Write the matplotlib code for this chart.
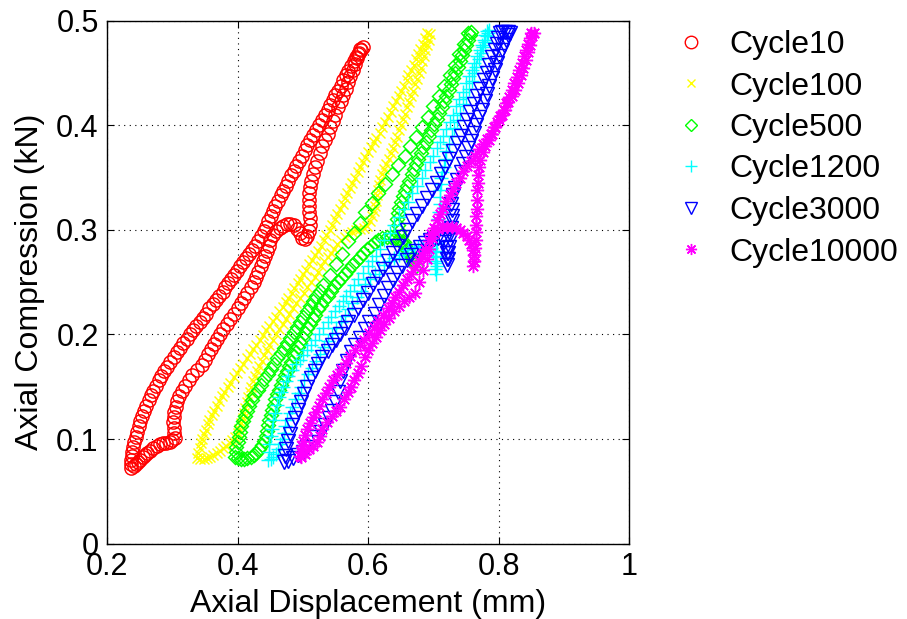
import matplotlib
matplotlib.use("Agg")
import matplotlib.pyplot as plt

plt.rcParams['font.family'] = ['Liberation Sans', 'DejaVu Sans']

# ---- recorded hysteresis loops: (axial displacement mm, axial compression kN) ----
labels = ['Cycle10', 'Cycle100', 'Cycle500', 'Cycle1200', 'Cycle3000', 'Cycle10000']

cycle10 = [
    (0.237, 0.072), (0.241, 0.074), (0.245, 0.076), (0.248, 0.078), (0.251, 0.080), (0.255, 0.083),
    (0.258, 0.085), (0.262, 0.087), (0.266, 0.089), (0.271, 0.091), (0.276, 0.093), (0.281, 0.095),
    (0.286, 0.096), (0.291, 0.096), (0.296, 0.097), (0.300, 0.099), (0.304, 0.101), (0.303, 0.106),
    (0.302, 0.111), (0.301, 0.116), (0.302, 0.121), (0.303, 0.126), (0.305, 0.131), (0.308, 0.136),
    (0.311, 0.141), (0.315, 0.146), (0.320, 0.151), (0.325, 0.156), (0.331, 0.161), (0.338, 0.166),
    (0.345, 0.171), (0.350, 0.176), (0.355, 0.181), (0.360, 0.186), (0.364, 0.191), (0.369, 0.196),
    (0.373, 0.200), (0.378, 0.205), (0.384, 0.210), (0.389, 0.215), (0.395, 0.220), (0.400, 0.225),
    (0.405, 0.230), (0.410, 0.235), (0.415, 0.240), (0.420, 0.245), (0.425, 0.250), (0.429, 0.255),
    (0.432, 0.260), (0.436, 0.265), (0.439, 0.270), (0.442, 0.275), (0.445, 0.280), (0.448, 0.285),
    (0.450, 0.290), (0.454, 0.295), (0.459, 0.299), (0.465, 0.302), (0.470, 0.304), (0.476, 0.306),
    (0.481, 0.306), (0.486, 0.305), (0.491, 0.301), (0.495, 0.297), (0.499, 0.292), (0.503, 0.291),
    (0.507, 0.294), (0.510, 0.299), (0.511, 0.305), (0.511, 0.311), (0.510, 0.317), (0.510, 0.323),
    (0.510, 0.329), (0.510, 0.335), (0.511, 0.341), (0.513, 0.347), (0.516, 0.353), (0.519, 0.360),
    (0.522, 0.366), (0.526, 0.373), (0.530, 0.380), (0.534, 0.386), (0.538, 0.392), (0.542, 0.398),
    (0.546, 0.404), (0.550, 0.410), (0.554, 0.417), (0.558, 0.423), (0.562, 0.429), (0.566, 0.435),
    (0.570, 0.441), (0.573, 0.447), (0.577, 0.453), (0.580, 0.459), (0.583, 0.464), (0.586, 0.469),
    (0.588, 0.473), (0.592, 0.475), (0.589, 0.472), (0.585, 0.468), (0.581, 0.465), (0.578, 0.461),
    (0.574, 0.457), (0.570, 0.452), (0.566, 0.448), (0.562, 0.443), (0.558, 0.438), (0.554, 0.433),
    (0.550, 0.429), (0.546, 0.424), (0.542, 0.419), (0.538, 0.415), (0.534, 0.410), (0.529, 0.405),
    (0.525, 0.400), (0.520, 0.395), (0.516, 0.391), (0.511, 0.386), (0.507, 0.381), (0.503, 0.376),
    (0.499, 0.371), (0.494, 0.366), (0.490, 0.361), (0.486, 0.356), (0.482, 0.352), (0.478, 0.347),
    (0.474, 0.342), (0.470, 0.337), (0.466, 0.333), (0.462, 0.328), (0.458, 0.323), (0.455, 0.318),
    (0.451, 0.313), (0.447, 0.308), (0.444, 0.303), (0.440, 0.299), (0.436, 0.294), (0.432, 0.289),
    (0.427, 0.285), (0.422, 0.281), (0.418, 0.277), (0.413, 0.273), (0.409, 0.269), (0.404, 0.265),
    (0.399, 0.261), (0.395, 0.257), (0.390, 0.253), (0.386, 0.249), (0.381, 0.245), (0.377, 0.241),
    (0.372, 0.237), (0.367, 0.233), (0.362, 0.229), (0.357, 0.225), (0.352, 0.220), (0.347, 0.216),
    (0.342, 0.212), (0.337, 0.208), (0.332, 0.204), (0.327, 0.200), (0.322, 0.196), (0.317, 0.192),
    (0.312, 0.187), (0.307, 0.183), (0.302, 0.178), (0.297, 0.174), (0.292, 0.169), (0.288, 0.165),
    (0.283, 0.160), (0.279, 0.156), (0.275, 0.151), (0.271, 0.146), (0.267, 0.142), (0.264, 0.137),
    (0.260, 0.132), (0.257, 0.127), (0.254, 0.122), (0.251, 0.117), (0.249, 0.112), (0.246, 0.107),
    (0.244, 0.102), (0.242, 0.097), (0.240, 0.092), (0.239, 0.088), (0.238, 0.084), (0.237, 0.080),
    (0.236, 0.076),
]

cycle100 = [
    (0.338, 0.082), (0.343, 0.081), (0.348, 0.081), (0.353, 0.082), (0.358, 0.083), (0.363, 0.085),
    (0.368, 0.087), (0.373, 0.089), (0.378, 0.091), (0.383, 0.093), (0.388, 0.096), (0.392, 0.099),
    (0.396, 0.102), (0.400, 0.106), (0.403, 0.110), (0.406, 0.115), (0.408, 0.120), (0.410, 0.125),
    (0.412, 0.130), (0.414, 0.135), (0.416, 0.140), (0.419, 0.145), (0.421, 0.150), (0.424, 0.155),
    (0.427, 0.160), (0.430, 0.165), (0.433, 0.170), (0.437, 0.175), (0.441, 0.180), (0.445, 0.185),
    (0.449, 0.190), (0.454, 0.195), (0.459, 0.200), (0.464, 0.205), (0.469, 0.210), (0.474, 0.215),
    (0.479, 0.220), (0.485, 0.225), (0.490, 0.230), (0.496, 0.235), (0.502, 0.240), (0.507, 0.245),
    (0.513, 0.250), (0.518, 0.255), (0.523, 0.260), (0.528, 0.265), (0.533, 0.270), (0.538, 0.274),
    (0.543, 0.278), (0.548, 0.282), (0.553, 0.286), (0.558, 0.290), (0.564, 0.293), (0.570, 0.296),
    (0.576, 0.298), (0.582, 0.300), (0.588, 0.301), (0.594, 0.302), (0.599, 0.304), (0.603, 0.308),
    (0.606, 0.313), (0.609, 0.318), (0.611, 0.323), (0.612, 0.328), (0.614, 0.333), (0.615, 0.338),
    (0.617, 0.343), (0.619, 0.348), (0.622, 0.353), (0.625, 0.358), (0.628, 0.363), (0.632, 0.368),
    (0.635, 0.373), (0.639, 0.378), (0.642, 0.384), (0.645, 0.389), (0.648, 0.395), (0.651, 0.400),
    (0.654, 0.406), (0.657, 0.411), (0.660, 0.417), (0.663, 0.422), (0.666, 0.428), (0.669, 0.433),
    (0.672, 0.439), (0.675, 0.444), (0.678, 0.450), (0.681, 0.455), (0.683, 0.461), (0.686, 0.466),
    (0.688, 0.472), (0.691, 0.477), (0.693, 0.482), (0.695, 0.487), (0.690, 0.488), (0.687, 0.483),
    (0.684, 0.478), (0.680, 0.473), (0.677, 0.468), (0.673, 0.463), (0.670, 0.458), (0.666, 0.453),
    (0.662, 0.448), (0.659, 0.443), (0.655, 0.438), (0.651, 0.433), (0.647, 0.428), (0.643, 0.423),
    (0.639, 0.418), (0.635, 0.413), (0.631, 0.408), (0.626, 0.403), (0.622, 0.398), (0.618, 0.393),
    (0.613, 0.388), (0.609, 0.384), (0.604, 0.379), (0.600, 0.374), (0.596, 0.370), (0.592, 0.365),
    (0.588, 0.360), (0.584, 0.355), (0.580, 0.350), (0.576, 0.345), (0.572, 0.340), (0.568, 0.335),
    (0.565, 0.330), (0.561, 0.325), (0.557, 0.320), (0.553, 0.315), (0.549, 0.310), (0.545, 0.305),
    (0.541, 0.300), (0.536, 0.295), (0.532, 0.290), (0.528, 0.285), (0.523, 0.280), (0.519, 0.276),
    (0.514, 0.271), (0.510, 0.267), (0.505, 0.262), (0.501, 0.258), (0.496, 0.253), (0.492, 0.249),
    (0.487, 0.244), (0.483, 0.240), (0.478, 0.235), (0.474, 0.231), (0.469, 0.226), (0.464, 0.222),
    (0.459, 0.217), (0.454, 0.213), (0.449, 0.208), (0.444, 0.204), (0.439, 0.199), (0.434, 0.195),
    (0.429, 0.190), (0.424, 0.186), (0.419, 0.181), (0.414, 0.177), (0.409, 0.172), (0.404, 0.168),
    (0.399, 0.163), (0.394, 0.159), (0.389, 0.154), (0.385, 0.150), (0.380, 0.145), (0.376, 0.141),
    (0.372, 0.136), (0.368, 0.132), (0.364, 0.127), (0.361, 0.123), (0.357, 0.118), (0.354, 0.114),
    (0.351, 0.109), (0.348, 0.105), (0.346, 0.100), (0.344, 0.096), (0.342, 0.091), (0.340, 0.087),
]

cycle500 = [
    (0.396, 0.083), (0.400, 0.082), (0.405, 0.081), (0.410, 0.081), (0.415, 0.082), (0.420, 0.083),
    (0.425, 0.085), (0.429, 0.087), (0.433, 0.090), (0.437, 0.094), (0.440, 0.098), (0.443, 0.103),
    (0.445, 0.108), (0.447, 0.113), (0.449, 0.118), (0.451, 0.123), (0.453, 0.128), (0.456, 0.133),
    (0.458, 0.138), (0.461, 0.143), (0.464, 0.147), (0.467, 0.152), (0.470, 0.156), (0.473, 0.161),
    (0.476, 0.165), (0.479, 0.170), (0.482, 0.174), (0.486, 0.179), (0.489, 0.183), (0.493, 0.188),
    (0.496, 0.192), (0.500, 0.197), (0.503, 0.201), (0.507, 0.206), (0.511, 0.210), (0.515, 0.215),
    (0.519, 0.219), (0.524, 0.224), (0.528, 0.228), (0.533, 0.233), (0.538, 0.237), (0.543, 0.242),
    (0.548, 0.246), (0.554, 0.250), (0.559, 0.254), (0.565, 0.258), (0.570, 0.262), (0.576, 0.266),
    (0.581, 0.270), (0.587, 0.274), (0.592, 0.278), (0.598, 0.282), (0.604, 0.285), (0.610, 0.288),
    (0.616, 0.290), (0.622, 0.292), (0.629, 0.293), (0.635, 0.293), (0.641, 0.292), (0.647, 0.290),
    (0.652, 0.288), (0.656, 0.285), (0.660, 0.281), (0.664, 0.277), (0.667, 0.273), (0.670, 0.269),
    (0.673, 0.265), (0.669, 0.270), (0.664, 0.276), (0.659, 0.282), (0.655, 0.288), (0.651, 0.294),
    (0.648, 0.299), (0.646, 0.305), (0.645, 0.310), (0.646, 0.316), (0.648, 0.321), (0.650, 0.327),
    (0.653, 0.332), (0.656, 0.337), (0.660, 0.342), (0.663, 0.347), (0.667, 0.353), (0.670, 0.358),
    (0.674, 0.363), (0.677, 0.368), (0.681, 0.373), (0.685, 0.379), (0.689, 0.384), (0.693, 0.390),
    (0.697, 0.395), (0.701, 0.401), (0.705, 0.406), (0.709, 0.412), (0.713, 0.417), (0.716, 0.423),
    (0.720, 0.428), (0.724, 0.434), (0.727, 0.439), (0.731, 0.445), (0.734, 0.450), (0.738, 0.456),
    (0.741, 0.461), (0.744, 0.467), (0.747, 0.472), (0.750, 0.477), (0.753, 0.482), (0.756, 0.486),
    (0.758, 0.489), (0.753, 0.488), (0.747, 0.478), (0.740, 0.468), (0.733, 0.458), (0.725, 0.448),
    (0.717, 0.438), (0.709, 0.428), (0.700, 0.418), (0.692, 0.408), (0.683, 0.398), (0.674, 0.389),
    (0.665, 0.380), (0.656, 0.371), (0.646, 0.362), (0.636, 0.353), (0.626, 0.344), (0.616, 0.335),
    (0.606, 0.326), (0.596, 0.317), (0.587, 0.307), (0.578, 0.297), (0.570, 0.289), (0.560, 0.277),
    (0.551, 0.267), (0.541, 0.257), (0.531, 0.247), (0.526, 0.242), (0.521, 0.237), (0.516, 0.232),
    (0.511, 0.227), (0.506, 0.222), (0.501, 0.217), (0.496, 0.212), (0.491, 0.207), (0.486, 0.202),
    (0.481, 0.197), (0.476, 0.192), (0.471, 0.187), (0.466, 0.182), (0.461, 0.177), (0.456, 0.172),
    (0.451, 0.167), (0.446, 0.162), (0.441, 0.157), (0.436, 0.152), (0.431, 0.147), (0.426, 0.142),
    (0.422, 0.137), (0.418, 0.132), (0.415, 0.127), (0.412, 0.122), (0.409, 0.117), (0.406, 0.112),
    (0.404, 0.107), (0.402, 0.102), (0.400, 0.097), (0.398, 0.092), (0.397, 0.088),
]

cycle1200 = [
    (0.447, 0.080), (0.451, 0.081), (0.455, 0.083), (0.459, 0.086), (0.462, 0.090), (0.465, 0.095),
    (0.468, 0.100), (0.471, 0.106), (0.473, 0.112), (0.476, 0.118), (0.480, 0.125), (0.484, 0.131),
    (0.488, 0.138), (0.492, 0.144), (0.497, 0.150), (0.502, 0.156), (0.508, 0.162), (0.514, 0.168),
    (0.520, 0.175), (0.526, 0.181), (0.533, 0.188), (0.539, 0.194), (0.545, 0.200), (0.551, 0.206),
    (0.558, 0.212), (0.564, 0.218), (0.570, 0.224), (0.576, 0.230), (0.583, 0.236), (0.589, 0.242),
    (0.596, 0.248), (0.603, 0.253), (0.610, 0.258), (0.617, 0.262), (0.625, 0.266), (0.632, 0.270),
    (0.640, 0.273), (0.647, 0.276), (0.655, 0.278), (0.662, 0.281), (0.670, 0.283), (0.677, 0.284),
    (0.685, 0.285), (0.691, 0.285), (0.697, 0.283), (0.700, 0.279), (0.703, 0.275), (0.704, 0.270),
    (0.705, 0.265), (0.704, 0.258), (0.703, 0.263), (0.703, 0.268), (0.704, 0.274), (0.704, 0.280),
    (0.705, 0.287), (0.706, 0.295), (0.707, 0.302), (0.708, 0.310), (0.709, 0.317), (0.710, 0.325),
    (0.711, 0.331), (0.711, 0.338), (0.712, 0.344), (0.712, 0.350), (0.714, 0.355), (0.716, 0.360),
    (0.718, 0.368), (0.720, 0.375), (0.724, 0.382), (0.728, 0.390), (0.732, 0.397), (0.737, 0.405),
    (0.741, 0.412), (0.746, 0.420), (0.750, 0.427), (0.755, 0.435), (0.759, 0.442), (0.763, 0.450),
    (0.766, 0.456), (0.770, 0.463), (0.773, 0.469), (0.776, 0.475), (0.779, 0.480), (0.782, 0.485),
    (0.784, 0.488), (0.786, 0.491), (0.782, 0.490), (0.780, 0.486), (0.777, 0.482), (0.774, 0.477),
    (0.771, 0.472), (0.767, 0.466), (0.763, 0.460), (0.759, 0.453), (0.755, 0.447), (0.750, 0.440),
    (0.745, 0.432), (0.740, 0.425), (0.735, 0.418), (0.730, 0.410), (0.725, 0.403), (0.720, 0.396),
    (0.715, 0.390), (0.710, 0.384), (0.705, 0.378), (0.700, 0.371), (0.695, 0.365), (0.688, 0.357),
    (0.682, 0.350), (0.675, 0.342), (0.668, 0.335), (0.662, 0.327), (0.655, 0.320), (0.648, 0.312),
    (0.640, 0.305), (0.633, 0.297), (0.625, 0.290), (0.618, 0.282), (0.612, 0.275), (0.606, 0.270),
    (0.600, 0.265), (0.592, 0.259), (0.585, 0.253), (0.578, 0.247), (0.572, 0.242), (0.567, 0.237),
    (0.562, 0.232), (0.556, 0.227), (0.550, 0.222), (0.544, 0.217), (0.538, 0.212), (0.531, 0.206),
    (0.525, 0.200), (0.518, 0.195), (0.512, 0.190), (0.506, 0.185), (0.500, 0.180), (0.495, 0.176),
    (0.490, 0.172), (0.484, 0.166), (0.478, 0.160), (0.474, 0.155), (0.470, 0.150), (0.466, 0.145),
    (0.463, 0.140), (0.460, 0.133), (0.458, 0.125), (0.455, 0.118), (0.453, 0.110), (0.451, 0.103),
    (0.449, 0.095), (0.448, 0.088),
]

cycle3000 = [
    (0.472, 0.078), (0.478, 0.079), (0.485, 0.082), (0.492, 0.085), (0.500, 0.088), (0.507, 0.092),
    (0.515, 0.097), (0.521, 0.102), (0.528, 0.107), (0.534, 0.113), (0.540, 0.120), (0.545, 0.127),
    (0.550, 0.135), (0.554, 0.145), (0.557, 0.155), (0.562, 0.165), (0.568, 0.175), (0.574, 0.183),
    (0.580, 0.190), (0.587, 0.197), (0.595, 0.205), (0.602, 0.212), (0.610, 0.220), (0.617, 0.228),
    (0.625, 0.237), (0.631, 0.244), (0.638, 0.252), (0.645, 0.259), (0.652, 0.265), (0.659, 0.271),
    (0.666, 0.276), (0.673, 0.280), (0.680, 0.284), (0.688, 0.287), (0.695, 0.290), (0.701, 0.291),
    (0.708, 0.292), (0.713, 0.291), (0.717, 0.288), (0.719, 0.283), (0.721, 0.278), (0.721, 0.272),
    (0.721, 0.266), (0.722, 0.272), (0.723, 0.278), (0.724, 0.284), (0.725, 0.290), (0.726, 0.296),
    (0.727, 0.302), (0.728, 0.308), (0.728, 0.313), (0.728, 0.319), (0.727, 0.325), (0.730, 0.333),
    (0.733, 0.340), (0.737, 0.348), (0.742, 0.355), (0.746, 0.363), (0.750, 0.370), (0.754, 0.378),
    (0.758, 0.385), (0.762, 0.393), (0.766, 0.400), (0.770, 0.408), (0.775, 0.415), (0.779, 0.423),
    (0.783, 0.430), (0.786, 0.438), (0.790, 0.445), (0.794, 0.453), (0.798, 0.460), (0.801, 0.466),
    (0.805, 0.472), (0.808, 0.477), (0.812, 0.482), (0.815, 0.486), (0.818, 0.488), (0.814, 0.489),
    (0.810, 0.489), (0.806, 0.489), (0.802, 0.488), (0.799, 0.483), (0.797, 0.478), (0.794, 0.472),
    (0.790, 0.465), (0.786, 0.458), (0.782, 0.450), (0.777, 0.443), (0.772, 0.435), (0.767, 0.428),
    (0.762, 0.420), (0.757, 0.413), (0.752, 0.405), (0.747, 0.398), (0.742, 0.390), (0.736, 0.383),
    (0.730, 0.375), (0.724, 0.368), (0.718, 0.360), (0.712, 0.353), (0.705, 0.345), (0.698, 0.338),
    (0.690, 0.330), (0.683, 0.323), (0.675, 0.315), (0.668, 0.308), (0.660, 0.300), (0.653, 0.293),
    (0.645, 0.285), (0.638, 0.278), (0.630, 0.270), (0.623, 0.263), (0.615, 0.255), (0.608, 0.248),
    (0.600, 0.240), (0.593, 0.233), (0.585, 0.225), (0.578, 0.219), (0.570, 0.212), (0.564, 0.206),
    (0.557, 0.200), (0.551, 0.195), (0.545, 0.190), (0.538, 0.184), (0.530, 0.178), (0.524, 0.172),
    (0.518, 0.165), (0.512, 0.158), (0.507, 0.150), (0.502, 0.143), (0.497, 0.135), (0.492, 0.128),
    (0.488, 0.120), (0.484, 0.113), (0.480, 0.105), (0.478, 0.098), (0.475, 0.090), (0.473, 0.084),
]

cycle10000 = [
    (0.497, 0.083), (0.503, 0.086), (0.510, 0.090), (0.516, 0.093), (0.522, 0.097), (0.526, 0.103),
    (0.530, 0.110), (0.537, 0.116), (0.545, 0.122), (0.551, 0.127), (0.557, 0.131), (0.563, 0.138),
    (0.570, 0.145), (0.574, 0.150), (0.578, 0.156), (0.584, 0.163), (0.590, 0.170), (0.595, 0.178),
    (0.600, 0.185), (0.606, 0.192), (0.613, 0.198), (0.619, 0.204), (0.625, 0.210), (0.632, 0.216),
    (0.640, 0.222), (0.647, 0.227), (0.655, 0.232), (0.663, 0.236), (0.672, 0.240), (0.678, 0.250),
    (0.685, 0.262), (0.690, 0.272), (0.694, 0.282), (0.698, 0.292), (0.702, 0.298), (0.708, 0.301),
    (0.714, 0.303), (0.721, 0.303), (0.728, 0.303), (0.735, 0.302), (0.741, 0.300), (0.746, 0.297),
    (0.751, 0.294), (0.755, 0.290), (0.758, 0.286), (0.761, 0.281), (0.762, 0.276), (0.762, 0.270),
    (0.761, 0.265), (0.762, 0.270), (0.763, 0.276), (0.764, 0.283), (0.765, 0.290), (0.765, 0.298),
    (0.766, 0.305), (0.766, 0.313), (0.767, 0.320), (0.767, 0.329), (0.767, 0.338), (0.768, 0.345),
    (0.769, 0.352), (0.770, 0.360), (0.772, 0.367), (0.776, 0.374), (0.780, 0.380), (0.785, 0.386),
    (0.790, 0.392), (0.795, 0.398), (0.800, 0.405), (0.805, 0.410), (0.810, 0.415), (0.815, 0.422),
    (0.820, 0.428), (0.825, 0.434), (0.830, 0.440), (0.834, 0.448), (0.838, 0.455), (0.842, 0.462),
    (0.845, 0.470), (0.848, 0.477), (0.852, 0.485), (0.854, 0.488), (0.850, 0.488), (0.848, 0.483),
    (0.845, 0.478), (0.842, 0.472), (0.839, 0.466), (0.836, 0.460), (0.832, 0.453), (0.828, 0.446),
    (0.824, 0.440), (0.820, 0.434), (0.816, 0.427), (0.812, 0.421), (0.808, 0.415), (0.803, 0.409),
    (0.798, 0.403), (0.793, 0.398), (0.788, 0.392), (0.782, 0.387), (0.776, 0.382), (0.770, 0.377),
    (0.764, 0.371), (0.758, 0.366), (0.752, 0.361), (0.746, 0.356), (0.741, 0.350), (0.735, 0.345),
    (0.730, 0.339), (0.725, 0.333), (0.720, 0.328), (0.715, 0.321), (0.710, 0.315), (0.705, 0.309),
    (0.701, 0.302), (0.697, 0.296), (0.693, 0.289), (0.688, 0.282), (0.683, 0.276), (0.678, 0.270),
    (0.672, 0.264), (0.666, 0.258), (0.660, 0.253), (0.654, 0.247), (0.648, 0.241), (0.642, 0.236),
    (0.636, 0.230), (0.630, 0.225), (0.623, 0.219), (0.616, 0.213), (0.609, 0.207), (0.601, 0.201),
    (0.594, 0.195), (0.587, 0.190), (0.580, 0.185), (0.573, 0.179), (0.566, 0.173), (0.559, 0.167),
    (0.552, 0.161), (0.546, 0.156), (0.540, 0.150), (0.535, 0.144), (0.530, 0.138), (0.525, 0.132),
    (0.520, 0.126), (0.515, 0.121), (0.511, 0.115), (0.507, 0.110), (0.504, 0.104), (0.501, 0.098),
    (0.499, 0.093), (0.497, 0.088), (0.495, 0.084),
]

xticks = [0.2, 0.4, 0.6, 0.8, 1.0]
xtick_labels = ['0.2', '0.4', '0.6', '0.8', '1']
yticks = [0, 0.1, 0.2, 0.3, 0.4, 0.5]
ytick_labels = ['0', '0.1', '0.2', '0.3', '0.4', '0.5']

# marker style per cycle (plot markers, legend markers)
series = [
    (cycle10, dict(marker='o', markersize=9.5, legend_size=9, color=(1, 0, 0))),
    (cycle100, dict(marker='x', markersize=7.5, legend_size=6, color=(1, 1, 0))),
    (cycle500, dict(marker='D', markersize=7.5, legend_size=6.5, color=(0, 1, 0))),
    (cycle1200, dict(marker='+', markersize=10.5, legend_size=9, color=(0, 1, 1))),
    (cycle3000, dict(marker='v', markersize=9.5, legend_size=8.5, color=(0, 0, 1))),
    (cycle10000, dict(marker=(8, 2, 0), markersize=9.5, legend_size=8, color=(1, 0, 1))),
]

fig = plt.figure(figsize=(9.07, 6.19), dpi=100)
ax = fig.add_axes([0.118, 0.1218, 0.5755, 0.8448])

for (pts, st), lab in zip(series, labels):
    xs = [p[0] for p in pts]
    ys = [p[1] for p in pts]
    ax.plot(xs, ys, linestyle='none', marker=st['marker'], markersize=st['markersize'],
            markerfacecolor='none', markeredgecolor=st['color'], markeredgewidth=1.05, label=lab)

ax.set_xlim(0.2, 1.0)
ax.set_ylim(0, 0.5)
ax.set_xticks(xticks)
ax.set_xticklabels(xtick_labels)
ax.set_yticks(yticks)
ax.set_yticklabels(ytick_labels)
ax.tick_params(direction='in', top=True, right=True, length=5, width=0.8, labelsize=22, pad=6)
ax.grid(True, color='k', linestyle=(0, (1, 4)), linewidth=0.8)
for sp in ax.spines.values():
    sp.set_linewidth(1.0)

ax.set_xlabel('Axial Displacement (mm)', fontsize=23, labelpad=5)
ax.set_ylabel('Axial Compression (kN)', fontsize=23, labelpad=8)

leg = ax.legend(loc='upper left', bbox_to_anchor=(675 / 907, 1 - 30 / 619), bbox_transform=fig.transFigure,
                frameon=False, borderpad=0, borderaxespad=0, handlelength=1.0, handletextpad=0.7,
                labelspacing=0.36, fontsize=23, numpoints=1)
for handle, (_, st) in zip(leg.legend_handles, series):
    handle.set_markersize(st['legend_size'])
    handle.set_markeredgewidth(1.0)

fig.savefig('out.png', dpi=100)
